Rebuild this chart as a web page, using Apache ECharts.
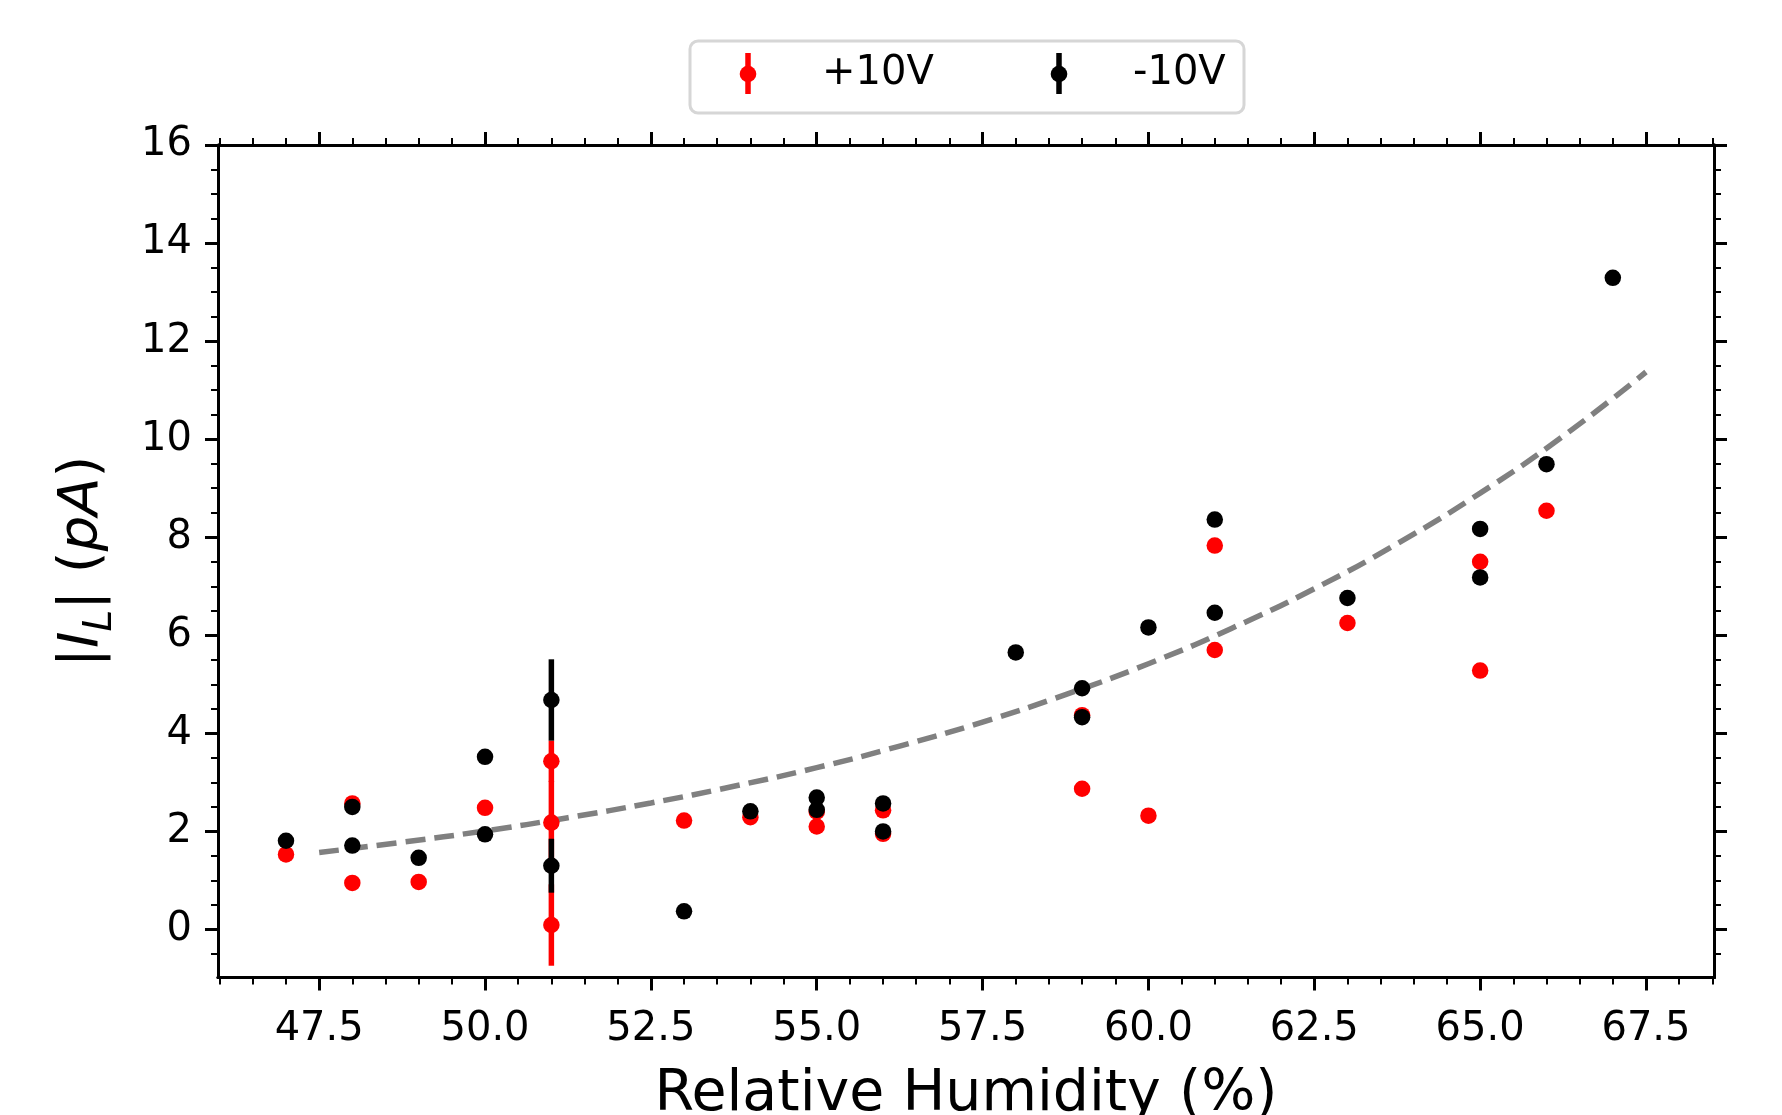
<!DOCTYPE html>
<html>
<head>
<meta charset="utf-8">
<script src="https://cdn.jsdelivr.net/npm/echarts@6/dist/echarts.min.js"></script>
<style>
  html, body { margin: 0; padding: 0; background: #fff; }
  #chart1 { width: 1782px; height: 1115px; }
</style>
</head>
<body>
<div id="chart1"></div>
<script>
// +10V points (x = relative humidity, y = |I_L| in pA, err = half error bar)
const rhPos = [47, 48, 48, 49, 50, 51, 51, 51, 53, 54, 55, 55, 56, 56, 59, 59, 60, 61, 61, 63, 65, 65, 66]
const ilPos = [1.53, 2.57, 0.95, 0.97, 2.48, 3.43, 2.18, 0.09, 2.22, 2.29, 2.40, 2.10, 2.43, 1.95, 4.37, 2.87, 2.32, 7.83, 5.70, 6.25, 7.50, 5.28, 8.54]
const errPos = [0, 0, 0, 0, 0, 0.42, 0.85, 0.83, 0, 0, 0, 0, 0, 0, 0, 0, 0, 0, 0, 0, 0, 0, 0]

// -10V points
const rhNeg = [47, 48, 48, 49, 50, 50, 51, 51, 53, 54, 55, 55, 56, 56, 58, 59, 59, 60, 61, 61, 63, 65, 65, 66, 67]
const ilNeg = [1.81, 2.50, 1.71, 1.46, 3.52, 1.94, 4.68, 1.30, 0.37, 2.41, 2.69, 2.44, 2.57, 2.00, 5.65, 4.92, 4.33, 6.16, 8.36, 6.46, 6.76, 8.17, 7.18, 9.49, 13.29]
const errNeg = [0, 0, 0, 0, 0, 0, 0.83, 0.55, 0, 0, 0, 0, 0, 0, 0, 0, 0, 0, 0, 0, 0, 0, 0, 0, 0]

// dashed fit curve
const fitX = [47.5, 48.75, 50, 51.25, 52.5, 53.75, 55, 56.25, 57.5, 58.75, 60, 61.25, 62.5, 63.75, 65, 66.25, 67.5]
const fitY = [1.57, 1.78, 2.01, 2.28, 2.58, 2.92, 3.30, 3.74, 4.23, 4.79, 5.42, 6.14, 6.95, 7.87, 8.90, 10.06, 11.37]

// tick labels
const xTicks = [47.5, 50, 52.5, 55, 57.5, 60, 62.5, 65, 67.5]
const xMinor = [46, 46.5, 47, 48, 48.5, 49, 49.5, 50.5, 51, 51.5, 52, 53, 53.5, 54, 54.5, 55.5, 56, 56.5, 57, 58, 58.5, 59, 59.5, 60.5, 61, 61.5, 62, 63, 63.5, 64, 64.5, 65.5, 66, 66.5, 67, 68, 68.5]
const yTicks = [0, 2, 4, 6, 8, 10, 12, 14, 16]
const yMinor = [-0.5, 0.5, 1, 1.5, 2.5, 3, 3.5, 4.5, 5, 5.5, 6.5, 7, 7.5, 8.5, 9, 9.5, 10.5, 11, 11.5, 12.5, 13, 13.5, 14.5, 15, 15.5]

const X_MIN = 45.975, X_MAX = 68.525
const Y_MIN = -0.98, Y_MAX = 16
const FONT = "'DejaVu Sans', sans-serif"

function points(xs, ys, es){
  return xs.map((x, i) => es ? [x, ys[i], es[i]] : [x, ys[i]])
}

function renderErr(params, api){
  const x = api.value(0), y = api.value(1), e = api.value(2)
  if(!e){
    return
  }
  const top = api.coord([x, y + e])
  const bot = api.coord([x, y - e])
  return {
    type: 'line',
    shape: { x1: top[0], y1: top[1], x2: bot[0], y2: bot[1] },
    style: { stroke: api.visual('color'), lineWidth: 5.5 }
  }
}

function xAxisDef(pos, major){
  return {
    type: 'value',
    position: pos,
    min: X_MIN,
    max: X_MAX,
    axisLine: { show: true, onZero: false, lineStyle: { color: '#000', width: 3 } },
    axisTick: {
      show: true,
      inside: false,
      length: major ? 13 : 7,
      lineStyle: { color: '#000', width: major ? 3 : 2 },
      customValues: major ? xTicks : xMinor
    },
    axisLabel: {
      show: pos === 'bottom' && major,
      customValues: xTicks,
      formatter: v => v.toFixed(1),
      color: '#000',
      fontSize: 40,
      fontFamily: FONT,
      margin: 32
    },
    splitLine: { show: false },
    minorTick: { show: false }
  }
}

function yAxisDef(pos, major){
  return {
    type: 'value',
    position: pos,
    min: Y_MIN,
    max: Y_MAX,
    axisLine: { show: true, onZero: false, lineStyle: { color: '#000', width: 3 } },
    axisTick: {
      show: true,
      inside: false,
      length: major ? 13 : 7,
      lineStyle: { color: '#000', width: major ? 3 : 2 },
      customValues: major ? yTicks : yMinor
    },
    axisLabel: {
      show: pos === 'left' && major,
      customValues: yTicks,
      formatter: v => String(v),
      color: '#000',
      fontSize: 40,
      fontFamily: FONT,
      margin: 26
    },
    splitLine: { show: false },
    minorTick: { show: false }
  }
}

let xBottom = xAxisDef('bottom', true)
xBottom.name = 'Relative Humidity (%)'
xBottom.nameLocation = 'middle'
xBottom.nameGap = 89
xBottom.nameMoveOverlap = false
xBottom.nameTextStyle = { fontSize: 57, color: '#000', fontFamily: FONT }

let yLeft = yAxisDef('left', true)
yLeft.name = '{n||}{i|I}{sub|L}{n|| (}{i|pA}{n|)}'
yLeft.nameLocation = 'middle'
yLeft.nameGap = 98
yLeft.nameRotate = 90
yLeft.nameMoveOverlap = false
yLeft.nameTextStyle = {
  color: '#000',
  fontFamily: FONT,
  fontSize: 56,
  rich: {
    n: { fontSize: 56, fontFamily: FONT, color: '#000', lineHeight: 76, verticalAlign: 'middle' },
    i: { fontSize: 56, fontFamily: FONT, fontStyle: 'italic', color: '#000', lineHeight: 76, verticalAlign: 'middle' },
    sub: { fontSize: 39, fontFamily: FONT, fontStyle: 'italic', color: '#000', lineHeight: 46, verticalAlign: 'bottom' }
  }
}

const legendX1 = 748, legendX2 = 1059, legendY = 74

const options = {
  backgroundColor: '#fff',
  animation: false,
  textStyle: { fontFamily: FONT },
  grid: {
    left: 218,
    right: 68,
    top: 145,
    bottom: 137.5,
    containLabel: false,
    outerBoundsMode: 'none'
  },
  xAxis: [xBottom, xAxisDef('bottom', false), xAxisDef('top', true), xAxisDef('top', false)],
  yAxis: [yLeft, yAxisDef('left', false), yAxisDef('right', true), yAxisDef('right', false)],
  graphic: [
    {
      type: 'rect',
      shape: { x: 690, y: 41, width: 554, height: 72, r: 8 },
      style: { fill: '#fff', stroke: '#d6d6d6', lineWidth: 3 },
      z: 100
    },
    {
      type: 'line',
      shape: { x1: legendX1, y1: 53, x2: legendX1, y2: 94 },
      style: { stroke: '#ff0000', lineWidth: 5.5 },
      z: 101
    },
    {
      type: 'circle',
      shape: { cx: legendX1, cy: legendY, r: 8.3 },
      style: { fill: '#ff0000' },
      z: 101
    },
    {
      type: 'text',
      x: 822,
      y: legendY,
      style: { text: '+10V', fill: '#000', font: '40px ' + FONT, textVerticalAlign: 'middle', verticalAlign: 'middle' },
      z: 101
    },
    {
      type: 'line',
      shape: { x1: legendX2, y1: 53, x2: legendX2, y2: 94 },
      style: { stroke: '#000', lineWidth: 5.5 },
      z: 101
    },
    {
      type: 'circle',
      shape: { cx: legendX2, cy: legendY, r: 8.3 },
      style: { fill: '#000' },
      z: 101
    },
    {
      type: 'text',
      x: 1133,
      y: legendY,
      style: { text: '-10V', fill: '#000', font: '40px ' + FONT, textVerticalAlign: 'middle', verticalAlign: 'middle' },
      z: 101
    }
  ],
  series: [
    {
      name: 'fit',
      type: 'line',
      data: points(fitX, fitY),
      smooth: true,
      showSymbol: false,
      symbol: 'none',
      lineStyle: { color: '#808080', width: 5.5, type: [20, 9] },
      z: 1
    },
    {
      name: '+10V err',
      type: 'custom',
      renderItem: renderErr,
      data: points(rhPos, ilPos, errPos),
      encode: { x: 0, y: 1 },
      itemStyle: { color: '#ff0000' },
      z: 2
    },
    {
      name: '+10V',
      type: 'scatter',
      data: points(rhPos, ilPos),
      symbol: 'circle',
      symbolSize: 16.5,
      itemStyle: { color: '#ff0000', opacity: 1 },
      z: 3
    },
    {
      name: '-10V err',
      type: 'custom',
      renderItem: renderErr,
      data: points(rhNeg, ilNeg, errNeg),
      encode: { x: 0, y: 1 },
      itemStyle: { color: '#000' },
      z: 4
    },
    {
      name: '-10V',
      type: 'scatter',
      data: points(rhNeg, ilNeg),
      symbol: 'circle',
      symbolSize: 16.5,
      itemStyle: { color: '#000', opacity: 1 },
      z: 5
    }
  ]
}

const chart = echarts.init(document.getElementById('chart1'))
chart.setOption(options)
</script>
</body>
</html>
